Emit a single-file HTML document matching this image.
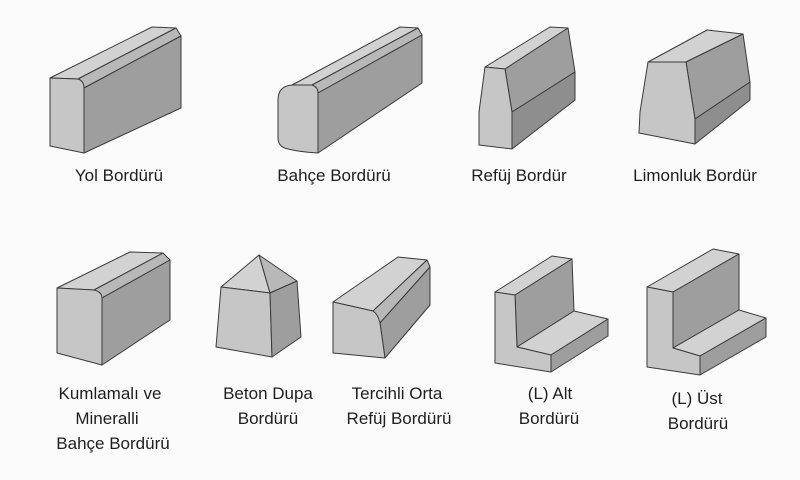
<!DOCTYPE html>
<html><head><meta charset="utf-8"><style>
html,body{margin:0;padding:0;background:#fbfbfb;}
svg{display:block}
text{font-family:"Liberation Sans",sans-serif;font-size:17px;fill:#1e1e1e;text-anchor:middle}
.f{fill:#c6c6c6;stroke:#3a3a3a;stroke-width:1;stroke-linejoin:round}
.t{fill:#d2d2d2;stroke:#3a3a3a;stroke-width:1;stroke-linejoin:round}
.b{fill:#b8b8b8;stroke:#3a3a3a;stroke-width:1;stroke-linejoin:round}
.r{fill:#9e9e9e;stroke:#3a3a3a;stroke-width:1;stroke-linejoin:round}
.r2{fill:#8e8e8e;stroke:#3a3a3a;stroke-width:1;stroke-linejoin:round}
</style></head><body>
<svg width="800" height="480" viewBox="0 0 800 480">
<!-- Yol -->
<polygon class="t" points="50,78 152,27 176,28 78,79"/>
<polygon class="b" points="78,79 176,28 181,36 84,88"/>
<polygon class="r" points="84,88 181,36 181,108 84,153"/>
<path class="f" d="M50,78 L78,79 Q84,81 84,88 L84,153 L50,146 Z"/>
<text x="119" y="181">Yol Bordürü</text>
<!-- Bahçe -->
<polygon class="t" points="292,85 400,27 418,28 312,85"/>
<polygon class="b" points="312,85 418,28 422,35 318,93"/>
<polygon class="r" points="318,93 422,35 422,83 318,153"/>
<path class="f" d="M278,100 Q278,86 292,85 L312,85 Q318,87 318,93 L318,153 Q300,152 288,149 Q278,147 278,138 Z"/>
<text x="334" y="181">Bahçe Bordürü</text>
<!-- Refüj -->
<polygon class="t" points="485,67 550,27 568,28 505,69"/>
<polygon class="r" points="505,69 568,28 575,72 512,112"/>
<polygon class="r2" points="512,112 575,72 575,100 512,149"/>
<polygon class="f" points="485,67 505,69 512,112 512,149 479,145 479,112"/>
<text x="519" y="181">Refüj Bordür</text>
<!-- Limonluk -->
<polygon class="t" points="648,62 707,30 743,34 686,62"/>
<polygon class="r" points="686,62 743,34 750,82 695,119"/>
<polygon class="r2" points="695,119 750,82 750,100 695,144"/>
<polygon class="f" points="648,62 686,62 695,119 695,144 639,133 640,112"/>
<text x="695" y="181">Limonluk Bordür</text>
<!-- Kumlamalı -->
<polygon class="t" points="57,288 130,252 163,253 94,290"/>
<polygon class="b" points="94,290 163,253 170,260 102,298"/>
<polygon class="r" points="102,298 170,260 170,320 102,365"/>
<path class="f" d="M57,288 L94,290 Q102,292 102,298 L102,365 L57,353 Z"/>
<text x="110" y="399">Kumlamalı ve</text>
<text x="107" y="424">Mineralli</text>
<text x="113" y="449">Bahçe Bordürü</text>
<!-- Beton Dupa -->
<polygon class="t" points="221,287 259,255 270,293"/>
<polygon class="b" points="270,293 259,255 297,281"/>
<polygon class="f" points="221,287 270,293 272,357 216,347"/>
<polygon class="r" points="270,293 297,281 301,337 272,357"/>
<text x="268" y="399">Beton Dupa</text>
<text x="268" y="424">Bordürü</text>
<!-- Tercihli -->
<polygon class="t" points="333,302 398,257 427,260 373,311"/>
<polygon class="b" points="373,311 427,260 430,267 380,323"/>
<polygon class="r" points="380,323 430,267 430,305 385,358"/>
<path class="f" d="M333,302 L373,311 Q378,314 380,323 L385,358 L333,353 Z"/>
<text x="397" y="399">Tercihli Orta</text>
<text x="399" y="424">Refüj Bordürü</text>
<!-- L Alt -->
<polygon class="t" points="495,292 515,295 572,259 552,256"/>
<polygon class="r" points="515,295 572,259 574,311 517,347"/>
<polygon class="t" points="517,347 574,311 608,319 551,355"/>
<polygon class="r" points="551,355 608,319 608,336 551,372"/>
<polygon class="f" points="495,292 515,295 517,347 551,355 551,372 495,363"/>
<text x="550" y="399">(L) Alt</text>
<text x="549" y="424">Bordürü</text>
<!-- L Üst -->
<polygon class="t" points="647,287 673,292 739,254 713,249"/>
<polygon class="r" points="673,292 739,254 739,310 673,348"/>
<polygon class="t" points="673,348 739,310 766,318 700,356"/>
<polygon class="r" points="700,356 766,318 766,337 700,375"/>
<polygon class="f" points="647,287 673,292 673,348 700,356 700,375 647,367"/>
<text x="697" y="404">(L) Üst</text>
<text x="698" y="429">Bordürü</text>
</svg>
</body></html>
